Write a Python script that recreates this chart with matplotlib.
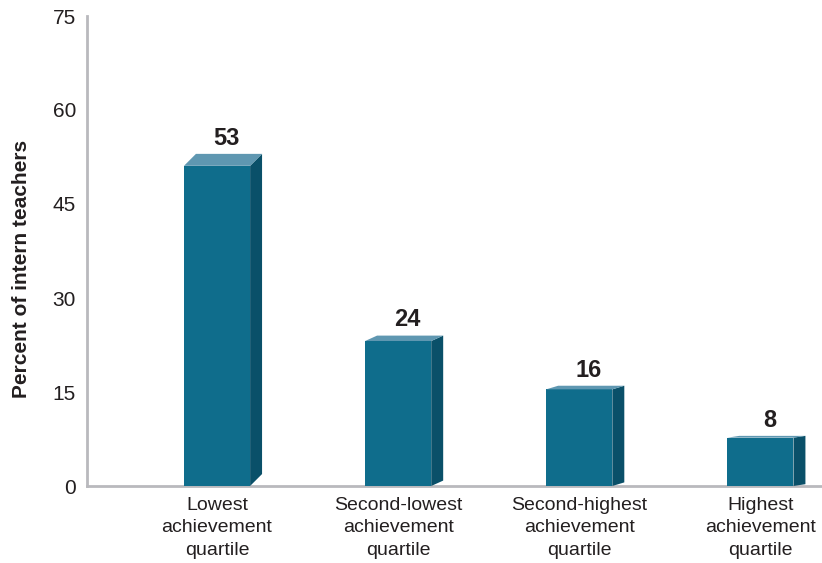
import matplotlib
matplotlib.use('Agg')
import matplotlib.pyplot as plt
from matplotlib.patches import Polygon, Rectangle

categories = ['Lowest\nachievement\nquartile', 'Second-lowest\nachievement\nquartile',
              'Second-highest\nachievement\nquartile', 'Highest\nachievement\nquartile']
values = [53, 24, 16, 8]
yticks = [0, 15, 30, 45, 60, 75]

front_col = '#0f6d8c'
top_col = '#5f97b1'
side_col = '#0a5069'
axis_col = '#b9b9bd'

plt.rcParams['font.family'] = ['Liberation Sans', 'DejaVu Sans']

fig = plt.figure(figsize=(8.22, 5.63), dpi=100)
ax = fig.add_axes([87 / 822, 77 / 563, 735 / 822, 470 / 563])

width = 0.365
dx = 0.066  # depth of the fake 3d box, in x data units
for i, v in enumerate(values):
    dy = 0.036 * v  # the top shows less on short bars
    x0 = i - width / 2
    x1 = i + width / 2
    ax.add_patch(Rectangle((x0, 0), width, v - dy, facecolor=front_col, edgecolor='none', zorder=3))
    ax.add_patch(Polygon([(x1, 0), (x1 + dx, dy), (x1 + dx, v), (x1, v - dy)],
                         closed=True, facecolor=side_col, edgecolor='none', zorder=3))
    ax.add_patch(Polygon([(x0, v - dy), (x0 + dx, v), (x1 + dx, v), (x1, v - dy)],
                         closed=True, facecolor=top_col, edgecolor='none', zorder=3))
    ax.annotate(str(v), (i + dx * 0.8, v), xytext=(0, 3), textcoords='offset points',
                ha='center', va='bottom', fontsize=17, fontweight='bold', color='#231f20')

ax.set_xlim(-0.718, 3.34)
ax.set_ylim(0, 75)
ax.set_yticks(yticks)
ax.set_xticks(range(len(categories)))
ax.set_xticklabels(categories, fontsize=14, color='#231f20', linespacing=1.4)
ax.tick_params(axis='y', length=0, pad=8, labelsize=15, labelcolor='#231f20')
ax.tick_params(axis='x', length=0, pad=8)
ax.set_ylabel('Percent of intern teachers', fontsize=15, fontweight='bold', color='#231f20', va='center')
ax.yaxis.set_label_coords(-0.089, 0.462)

for s in ['top', 'right']:
    ax.spines[s].set_visible(False)
for s in ['left', 'bottom']:
    ax.spines[s].set_color(axis_col)
    ax.spines[s].set_linewidth(2)
    ax.spines[s].set_zorder(2)

fig.savefig('out.png', dpi=100)
